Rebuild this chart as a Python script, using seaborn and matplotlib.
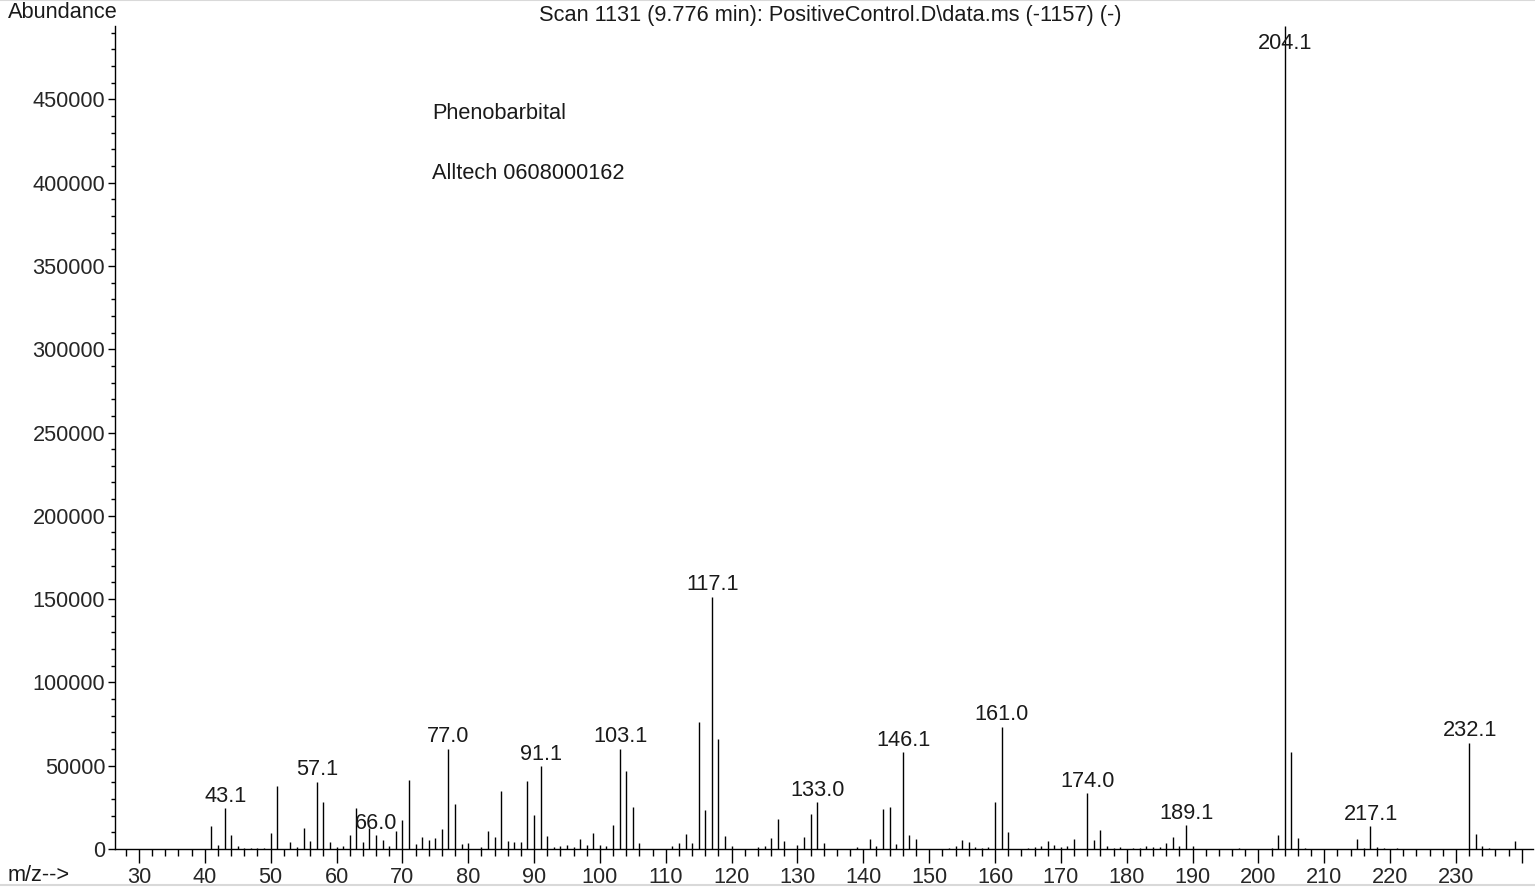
import numpy as np
import matplotlib
matplotlib.use("Agg")
import matplotlib.pyplot as plt
from matplotlib.ticker import MultipleLocator, FixedLocator
import seaborn as sns

# centroid peaks (nominal m/z, abundance)
mz = [41, 42, 43, 44, 45, 46, 47, 48, 49, 50, 51, 53, 54, 55, 56, 57, 58, 59,
      60, 61, 62, 63, 64, 65, 66, 67, 68, 69, 70, 71, 72, 73, 74, 75, 76, 77,
      78, 79, 80, 82, 83, 84, 85, 86, 87, 88, 89, 90, 91, 92, 93, 94, 95, 96,
      97, 98, 99, 100, 101, 102, 103, 104, 105, 106, 111, 112, 113, 114, 115,
      116, 117, 118, 119, 120, 124, 125, 126, 127, 128, 130, 131, 132, 133,
      134, 139, 141, 142, 143, 144, 145, 146, 147, 148, 153, 154, 155, 156,
      157, 158, 159, 160, 161, 162, 165, 166, 167, 168, 169, 170, 171, 172,
      174, 175, 176, 177, 178, 179, 181, 182, 183, 184, 185, 186, 187, 188,
      189, 190, 197, 202, 203, 204, 205, 206, 207, 215, 216, 217, 218, 219,
      221, 232, 233, 234, 235, 239]
abundance = [13800, 2700, 24600, 8200, 1600, 400, 400, 400, 500, 9400, 37700,
             4200, 1000, 12800, 4600, 40400, 28400, 4200, 1000, 1800, 8200,
             24400, 4400, 12400, 8400, 5400, 1800, 10800, 17200, 41600, 3000,
             7200, 5600, 6800, 12200, 60100, 27000, 3200, 3600, 1200, 10600,
             7200, 34900, 4800, 4200, 4200, 40900, 20600, 49700, 7800, 1200,
             1600, 2200, 1200, 6000, 2200, 9400, 2600, 2000, 14600, 60300,
             46900, 25400, 3400, 1600, 3600, 8800, 3400, 76500, 23400, 151400,
             66100, 7800, 1600, 1000, 1800, 6600, 17800, 4600, 2400, 7400,
             20800, 28200, 3400, 1000, 6200, 1800, 23800, 25200, 3000, 58100,
             8200, 5800, 800, 1800, 5200, 4200, 1000, 600, 1000, 28000, 73500,
             10400, 600, 1000, 2000, 4800, 2400, 1000, 1800, 5800, 33500, 5200,
             11400, 2000, 600, 1000, 600, 600, 2000, 1000, 1000, 3400, 7400,
             1600, 14200, 1600, 600, 600, 8400, 494000, 58100, 6600, 600, 5800,
             600, 13600, 1000, 600, 600, 63700, 9200, 1600, 600, 4600]

labelled_mz = [43.1, 57.1, 66.0, 77.0, 91.1, 103.1, 117.1, 133.0, 146.1,
               161.0, 174.0, 189.1, 204.1, 217.1, 232.1]

x_ticks = list(range(30, 250, 10))
x_tick_labels = [str(t) for t in range(30, 240, 10)] + [""]
y_ticks = list(range(0, 500000, 50000))

title = "Scan 1131 (9.776 min): PositiveControl.D\\data.ms (-1157) (-)"
notes = ["Phenobarbital", "Alltech 0608000162"]

FS = 15.7

sns.set_style("ticks")
plt.rcParams['font.family'] = ['Liberation Sans', 'DejaVu Sans']
plt.rcParams['text.color'] = '#1a1a1a'

fig = plt.figure(figsize=(15.35, 8.88), dpi=100)
ax = fig.add_axes([115 / 1535, 39 / 888, (1533 - 115) / 1535, (849 - 26) / 888])

ax.vlines(mz, 0, abundance, color="black", linewidth=1.0)

ymax = max(abundance)
ax.set_xlim(26.36, 241.7)
ax.set_ylim(0, ymax)

peak = dict(zip(mz, abundance))
for m in labelled_mz:
    h = peak[int(round(m))]
    if h > ymax * 0.95:
        # tallest peak: label sits inside the frame, over the line
        ax.annotate(f"{m:.1f}", (m, ymax), xytext=(0, -5), textcoords="offset points",
                    ha="center", va="top", fontsize=FS)
    else:
        ax.annotate(f"{m:.1f}", (m, h), xytext=(0, 1), textcoords="offset points",
                    ha="center", va="bottom", fontsize=FS)

ax.xaxis.set_major_locator(FixedLocator(x_ticks))
ax.set_xticklabels(x_tick_labels)
ax.xaxis.set_minor_locator(MultipleLocator(2))
ax.yaxis.set_major_locator(FixedLocator(y_ticks))
ax.yaxis.set_minor_locator(MultipleLocator(10000))
ax.tick_params(axis="x", which="major", length=10, width=1, pad=3, labelsize=FS, color="black")
ax.tick_params(axis="x", which="minor", length=5, width=1, color="black")
ax.tick_params(axis="y", which="major", length=5, width=1, pad=2, labelsize=FS, color="black")
ax.tick_params(axis="y", which="minor", length=3, width=1, color="black")
for s in ["left", "bottom"]:
    ax.spines[s].set_linewidth(1)
    ax.spines[s].set_color("black")
sns.despine(ax=ax)

ax.text(74.5, 441200, notes[0], fontsize=FS, ha="left", va="center")
ax.text(74.5, 405200, notes[1], fontsize=FS, ha="left", va="center")

fig.text(830 / 1535, 1 - 16 / 888, title, fontsize=FS, ha="center", va="center")
fig.text(8 / 1535, 1 - 13 / 888, "Abundance", fontsize=FS, ha="left", va="center")
fig.text(8 / 1535, 1 - 875 / 888, "m/z-->", fontsize=FS, ha="left", va="center")

# light frame lines at top and bottom of the image
fig.add_artist(plt.Line2D([0, 1], [1 - 0.5 / 888, 1 - 0.5 / 888], color="#d9d9d9", lw=1.5))
fig.add_artist(plt.Line2D([0, 1], [3.5 / 888, 3.5 / 888], color="#d9d9d9", lw=1.5))

fig.savefig("out.png", dpi=100)
